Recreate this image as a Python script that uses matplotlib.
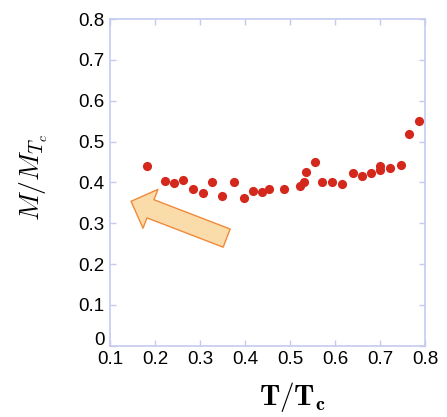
import matplotlib
matplotlib.use('Agg')
import matplotlib.pyplot as plt
import matplotlib.transforms as mtransforms
from matplotlib.patches import FancyArrowPatch

plt.rcParams['font.family'] = ['Liberation Sans', 'DejaVu Sans']
plt.rcParams['mathtext.fontset'] = 'cm'

# T/Tc and M/M_Tc
t_ratio = [0.183, 0.223, 0.243, 0.263, 0.284, 0.307, 0.326, 0.349, 0.375, 0.398,
           0.418, 0.438, 0.454, 0.487, 0.523, 0.530, 0.536, 0.555, 0.572, 0.593,
           0.616, 0.639, 0.659, 0.680, 0.699, 0.701, 0.722, 0.746, 0.764, 0.786]
m_ratio = [0.440, 0.403, 0.399, 0.405, 0.384, 0.375, 0.400, 0.366, 0.402, 0.362,
           0.378, 0.377, 0.383, 0.383, 0.391, 0.402, 0.426, 0.449, 0.400, 0.400,
           0.395, 0.424, 0.415, 0.422, 0.440, 0.431, 0.434, 0.442, 0.518, 0.550]

x_ticks = [0.1, 0.2, 0.3, 0.4, 0.5, 0.6, 0.7, 0.8]
y_ticks = [0, 0.1, 0.2, 0.3, 0.4, 0.5, 0.6, 0.7, 0.8]
y_tick_labels = ['0', '0.1', '0.2', '0.3', '0.4', '0.5', '0.6', '0.7', '0.8']

frame_color = '#c5cbef'

fig = plt.figure(figsize=(4.47, 4.17), dpi=100)
ax = fig.add_axes([0.2461, 0.171, 0.7047, 0.7834])

ax.plot(t_ratio, m_ratio, 'o', color='#d4281c', markersize=6.6,
        markeredgewidth=0, zorder=3)

ax.set_xlim(0.1, 0.8)
ax.set_ylim(0, 0.8)
ax.set_xticks(x_ticks)
ax.set_xticklabels([f'{t:.1f}' for t in x_ticks])
ax.set_yticks(y_ticks)
ax.set_yticklabels(y_tick_labels)

for spine in ax.spines.values():
    spine.set_color(frame_color)
    spine.set_linewidth(1.2)
ax.tick_params(direction='in', length=4, width=1, color=frame_color,
               top=True, right=True, labelsize=13.5, labelcolor='black', pad=4)

# lift the "0" label a bit so it sits above "0.1" like in the original
zero_label = ax.get_yticklabels()[0]
zero_label.set_transform(zero_label.get_transform() +
                         mtransforms.ScaledTranslation(0, 5 / 72, fig.dpi_scale_trans))

# arrow pointing toward low temperature
arrow = FancyArrowPatch((0.365, 0.261), (0.141, 0.356),
                        arrowstyle='simple,head_length=15,head_width=30,tail_width=14',
                        facecolor='#fadcaa', edgecolor='#f08a3a', linewidth=1.0,
                        mutation_scale=1, zorder=2)
ax.add_patch(arrow)

fig.text(0.655, 0.048, r'$\mathbf{T/T_c}$', fontsize=21, ha='center', va='center',
         family='serif')
fig.text(0.075, 0.575, r'$M/M_{T_c}$', fontsize=20, ha='center', va='center',
         rotation=90)

fig.savefig('out.png', dpi=100)
